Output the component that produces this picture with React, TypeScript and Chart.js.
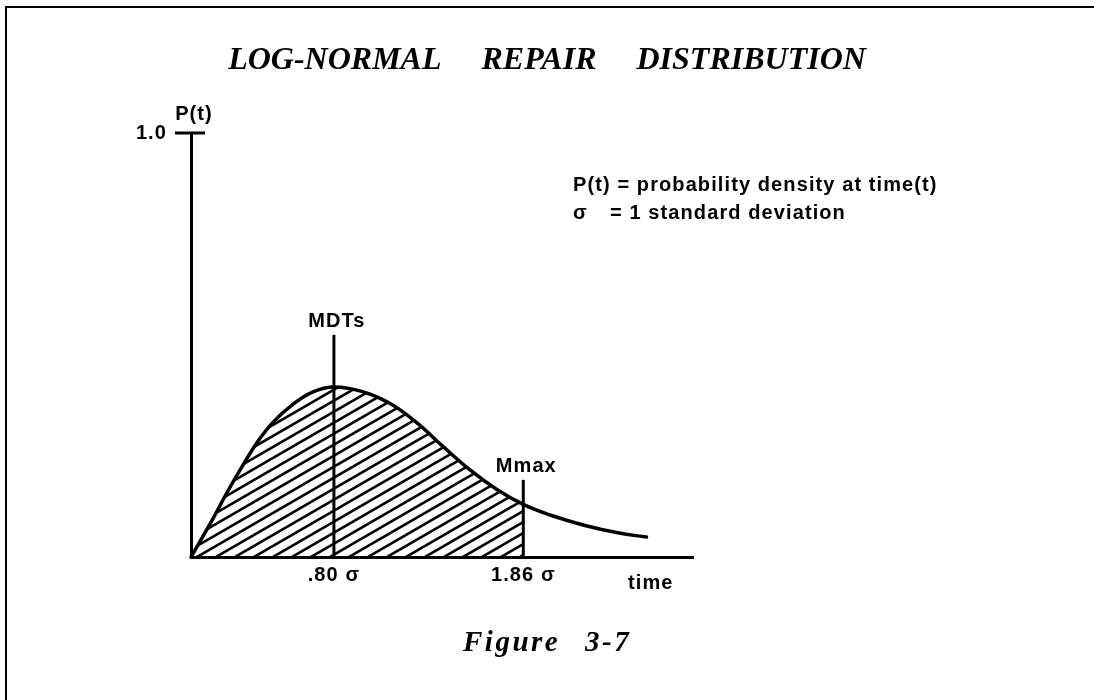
import React, { useEffect, useRef } from 'react';
import { Chart, registerables } from 'chart.js';

Chart.register(...registerables);

// ---- data ----
const timeSigma = [0, 0.12, 0.2, 0.27, 0.37, 0.46, 0.57, 0.68, 0.8, 0.96, 1.11, 1.26, 1.41, 1.56, 1.71, 1.86, 2.01, 2.2, 2.39, 2.55];
const density = [0, 0.088, 0.151, 0.202, 0.27, 0.318, 0.36, 0.389, 0.401, 0.39, 0.363, 0.318, 0.261, 0.206, 0.16, 0.124, 0.099, 0.075, 0.057, 0.047];
const markerX = [0.8, 1.86];
const markerTop = [0.524, 0.182];
const markerNames = ['MDTs', 'Mmax'];
const xTickValues = [0.8, 1.86];
const xTickLabels = ['.80 σ', '1.86 σ'];
const yTickValues = [1.0];
const yTickLabels = ['1.0'];
const xMax = 2.81;
const yMax = 1.0;
const shadeUntil = 1.86;
const titleWords = ['LOG-NORMAL', 'REPAIR', 'DISTRIBUTION'];
const captionWords = ['Figure', '3-7'];
const legendLines = ['P(t) = probability density at time(t)', '= 1 standard deviation'];
const legendSymbol = 'σ';
const yAxisName = 'P(t)';
const xAxisName = 'time';

const LABEL_FONT = 'bold 20px "Liberation Sans", Arial, sans-serif';
const LABEL_SPACING = '1.1px';

function makeHatch(): CanvasPattern | string {
  const c = document.createElement('canvas');
  const W = 19;
  const H = 11;
  c.width = W;
  c.height = H;
  const g = c.getContext('2d');
  if (!g) return '#888';
  g.strokeStyle = '#000';
  g.lineWidth = 2.6;
  for (const k of [0, 1, 2]) {
    const cc = k * H;
    g.beginPath();
    g.moveTo(-W * 0.3, cc + 0.3 * H);
    g.lineTo(W * 1.3, cc - 1.3 * H);
    g.stroke();
  }
  const p = g.createPattern(c, 'repeat');
  return p || '#888';
}

const annotations = {
  id: 'annotations',
  beforeDraw(chart: any) {
    chart.ctx.letterSpacing = LABEL_SPACING;
  },
  afterDraw(chart: any) {
    const { ctx, scales } = chart;
    const x = scales.x;
    const y = scales.y;
    ctx.save();
    ctx.fillStyle = '#000';
    ctx.strokeStyle = '#000';

    // tick mark at P = 1.0 crossing the axis
    const yTop = y.getPixelForValue(yTickValues[0]);
    const x0 = x.getPixelForValue(0);
    ctx.lineWidth = 3;
    ctx.beginPath();
    ctx.moveTo(x0 - 16, yTop);
    ctx.lineTo(x0 + 14, yTop);
    ctx.stroke();

    ctx.letterSpacing = LABEL_SPACING;
    ctx.font = LABEL_FONT;
    ctx.textBaseline = 'alphabetic';
    ctx.textAlign = 'center';
    ctx.fillText(yAxisName, x0 + 3, yTop - 13);

    markerX.forEach((mx, i) => {
      const px = x.getPixelForValue(mx);
      const py = y.getPixelForValue(markerTop[i]);
      ctx.fillText(markerNames[i], px + 3, py - 8);
    });

    ctx.textAlign = 'left';
    ctx.fillText(xAxisName, 628, 589);

    // legend text
    ctx.fillText(legendLines[0], 573, 191);
    ctx.fillText(legendSymbol, 573, 219);
    ctx.fillText(legendLines[1], 610, 219);

    // title
    ctx.letterSpacing = '0px';
    ctx.font = 'italic bold 32px "Liberation Serif", "Times New Roman", serif';
    const gap = 40;
    const widths = titleWords.map((w) => ctx.measureText(w).width);
    const total = widths.reduce((a, b) => a + b, 0) + gap * (titleWords.length - 1);
    let tx = 547 - total / 2;
    titleWords.forEach((w, i) => {
      ctx.fillText(w, tx, 69);
      tx += widths[i] + gap;
    });

    // caption
    ctx.letterSpacing = '2.5px';
    ctx.font = 'italic bold 29px "Liberation Serif", "Times New Roman", serif';
    ctx.fillText(captionWords[0], 463, 651);
    ctx.fillText(captionWords[1], 585, 651);

    ctx.restore();
  },
};

export default function App() {
  const canvasRef = useRef<HTMLCanvasElement | null>(null);

  useEffect(() => {
    const canvas = canvasRef.current;
    if (!canvas) return;
    const hatch = makeHatch();
    const curve = timeSigma.map((t, i) => ({ x: t, y: density[i] }));
    const markerSets = markerX.map((mx, i) => ({
      type: 'line' as const,
      data: [
        { x: mx, y: 0 },
        { x: mx, y: markerTop[i] },
      ],
      borderColor: '#000',
      borderWidth: 3,
      pointRadius: 0,
      tension: 0,
      fill: false,
      clip: false as any,
    }));

    const tickFont = { family: '"Liberation Sans", Arial, sans-serif', size: 20, weight: 'bold' as const };

    const chart = new Chart(canvas, {
      type: 'line',
      data: {
        datasets: [
          {
            data: curve,
            borderColor: '#000',
            borderWidth: 3.5,
            borderCapStyle: 'round',
            borderJoinStyle: 'round',
            pointRadius: 0,
            tension: 0.4,
            fill: 'origin',
            backgroundColor: 'rgba(0,0,0,0)',
            segment: {
              backgroundColor: (c: any) => (c.p1.parsed.x <= shadeUntil + 1e-9 ? hatch : 'rgba(0,0,0,0)'),
            },
            clip: false as any,
          } as any,
          ...markerSets,
        ],
      },
      options: {
        responsive: false,
        animation: false,
        layout: { padding: { left: 131, top: 133, right: 401, bottom: 103 } },
        plugins: {
          legend: { display: false },
          title: { display: false },
          tooltip: { enabled: false },
        },
        events: [],
        scales: {
          x: {
            type: 'linear',
            min: 0,
            max: xMax,
            grid: { display: false, drawTicks: false },
            border: { display: true, color: '#000', width: 3 },
            ticks: {
              color: '#000',
              font: tickFont,
              padding: 6,
              maxRotation: 0,
              autoSkip: false,
              callback: (v: any) => {
                const i = xTickValues.indexOf(Number(v));
                return i >= 0 ? xTickLabels[i] : '';
              },
            },
            afterBuildTicks: (s: any) => {
              s.ticks = xTickValues.map((v) => ({ value: v }));
            },
            afterFit: (s: any) => {
              s.height = 40;
            },
          },
          y: {
            type: 'linear',
            min: 0,
            max: yMax,
            grid: { display: false, drawTicks: false },
            border: { display: true, color: '#000', width: 3 },
            ticks: {
              color: '#000',
              font: tickFont,
              padding: 24,
              autoSkip: false,
              callback: (v: any) => {
                const i = yTickValues.indexOf(Number(v));
                return i >= 0 ? yTickLabels[i] : '';
              },
            },
            afterBuildTicks: (s: any) => {
              s.ticks = yTickValues.map((v) => ({ value: v }));
            },
            afterFit: (s: any) => {
              s.width = 60;
            },
          },
        },
      },
      plugins: [annotations],
    });
    return () => chart.destroy();
  }, []);

  return (
    <div style={{ position: 'fixed', left: 0, top: 0, width: 1094, height: 700, background: '#fff' }}>
      <canvas ref={canvasRef} width={1094} height={700} style={{ position: 'absolute', left: 0, top: 0 }} />
      <div
        style={{
          position: 'absolute',
          left: 5,
          top: 6,
          right: 0,
          bottom: 0,
          borderTop: '2px solid #000',
          borderLeft: '2px solid #000',
          pointerEvents: 'none',
        }}
      />
    </div>
  );
}
